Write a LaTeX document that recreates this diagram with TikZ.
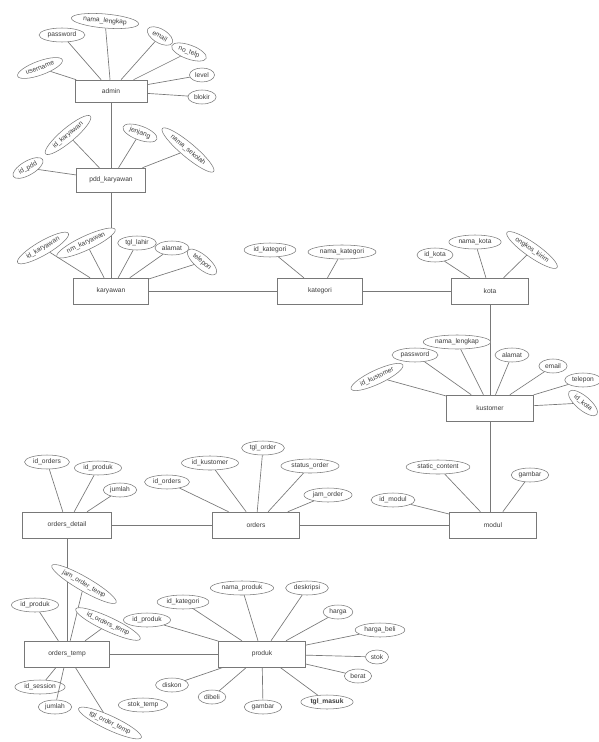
\documentclass[tikz,border=0pt]{standalone}
\usepackage{fontspec}
\setmainfont{Liberation Sans}
\usetikzlibrary{shapes.geometric}
\definecolor{erline}{RGB}{120,120,120}
\definecolor{ertext}{RGB}{60,60,60}

\begin{document}
\begin{tikzpicture}[x=.75pt,y=-.75pt,
  every node/.style={font=\fontsize{5}{6}\selectfont,text=ertext},
  entity/.style={draw=erline,fill=white,minimum width=65pt,minimum height=19.5pt,inner sep=1pt},
  attr/.style={draw=erline,fill=white,ellipse,inner xsep=1.5pt,inner ysep=1pt,minimum height=10.5pt},
  link/.style={erline,line width=.5pt}]
\useasboundingbox (0,0) rectangle (599,742);
% entities
\node[entity,minimum width=54pt,minimum height=16.5pt] (admin) at (111,91) {admin};
\node[entity,minimum width=52pt,minimum height=18pt] (pdd) at (111,180) {pdd\_karyawan};
\node[entity,minimum width=56pt] (karyawan) at (111,291) {karyawan};
\node[entity,minimum width=64pt] (kategori) at (320,291) {kategori};
\node[entity,minimum width=58pt] (kota) at (490,291) {kota};
\node[entity] (kustomer) at (490,408) {kustomer};
\node[entity] (modul) at (493,525) {modul};
\node[entity] (orders) at (256,525) {orders};
\node[entity,minimum width=67pt] (odetail) at (67,525) {orders\_detail};
\node[entity,minimum width=64pt] (otemp) at (67,654) {orders\_temp};
\node[entity] (produk) at (262,654) {produk};
% relations
\draw[link] (admin) -- (pdd);
\draw[link] (pdd) -- (karyawan);
\draw[link] (karyawan) -- (kategori);
\draw[link] (kategori) -- (kota);
\draw[link] (kota) -- (kustomer);
\draw[link] (kustomer.south) -- (kustomer.south |- modul.north);
\draw[link] (modul) -- (orders);
\draw[link] (orders) -- (odetail);
\draw[link] (odetail) -- (otemp);
\draw[link] (otemp) -- (produk);
% attributes
\foreach \px/\py/\rt/\lb [count=\i] in {40/68/20/username,62/35/0/password,105/21/-5/nama\_lengkap,
  160/36/-30/email,189/52/-20/no\_telp,202/75/0/level,202/97/0/blokir}
  {\node[attr,rotate=\rt] (admin-a\i) at (\px,\py) {\lb}; \draw[link] (admin-a\i) -- (admin);}
\foreach \px/\py/\rt/\lb [count=\i] in {28/168/30/id\_pdd,68/135/40/id\_karyawan,
  140/133/-20/jenjang,188/150/-40/nama\_sekolah}
  {\node[attr,rotate=\rt] (pdd-a\i) at (\px,\py) {\lb}; \draw[link] (pdd-a\i) -- (pdd);}
\foreach \px/\py/\rt/\lb [count=\i] in {43/248/30/id\_karyawan,86/243/25/nm\_karyawan,
  137/243/0/tgl\_lahir,172/248/0/alamat,202/262/-40/telepon}
  {\node[attr,rotate=\rt] (karyawan-a\i) at (\px,\py) {\lb}; \draw[link] (karyawan-a\i) -- (karyawan);}
\foreach \px/\py/\rt/\lb [count=\i] in {270/250/0/id\_kategori,342/252/0/nama\_kategori}
  {\node[attr,rotate=\rt] (kategori-a\i) at (\px,\py) {\lb}; \draw[link] (kategori-a\i) -- (kategori);}
\foreach \px/\py/\rt/\lb [count=\i] in {435/255/0/id\_kota,475/242/0/nama\_kota,532/250/-35/ongkos\_kirim}
  {\node[attr,rotate=\rt] (kota-a\i) at (\px,\py) {\lb}; \draw[link] (kota-a\i) -- (kota);}
\foreach \px/\py/\rt/\lb [count=\i] in {377/377/25/id\_kustomer,415/355/0/password,457/342/0/nama\_lengkap,
  512/355/0/alamat,553/366/0/email,583/380/0/telepon,583/403/-40/id\_kota}
  {\node[attr,rotate=\rt] (kustomer-a\i) at (\px,\py) {\lb}; \draw[link] (kustomer-a\i) -- (kustomer);}
\foreach \px/\py/\rt/\lb [count=\i] in {393/500/0/id\_modul,438/467/0/static\_content,530/475/0/gambar}
  {\node[attr,rotate=\rt] (modul-a\i) at (\px,\py) {\lb}; \draw[link] (modul-a\i) -- (modul);}
\foreach \px/\py/\rt/\lb [count=\i] in {167/482/0/id\_orders,210/463/0/id\_kustomer,263/448/0/tgl\_order,
  310/466/0/status\_order,328/495/0/jam\_order}
  {\node[attr,rotate=\rt] (orders-a\i) at (\px,\py) {\lb}; \draw[link] (orders-a\i) -- (orders);}
\foreach \px/\py/\rt/\lb [count=\i] in {47/462/0/id\_orders,98/468/0/id\_produk,120/490/0/jumlah}
  {\node[attr,rotate=\rt] (odetail-a\i) at (\px,\py) {\lb}; \draw[link] (odetail-a\i) -- (odetail);}
\foreach \px/\py/\rt/\lb [count=\i] in {84/584/-30/jam\_order\_temp,35/605/0/id\_produk,108/624/-25/id\_orders\_temp,
  40/687/0/id\_session,55/707/0/jumlah,110/723/-25/tgl\_order\_temp}
  {\node[attr,rotate=\rt] (otemp-a\i) at (\px,\py) {\lb}; \draw[link] (otemp-a\i) -- (otemp);}
\node[attr] (stoktemp) at (143,705) {stok\_temp};
\foreach \px/\py/\rt/\lb [count=\i] in {147/620/0/id\_produk,183/602/0/id\_kategori,242/588/0/nama\_produk,
  307/588/0/deskripsi,338/612/0/harga,380/630/0/harga\_beli,377/657/0/stok,358/676/0/berat,
  327/702/0/\textbf{tgl\_masuk},263/707/0/gambar,212/697/0/dibeli,172/685/0/diskon}
  {\node[attr,rotate=\rt] (produk-a\i) at (\px,\py) {\lb}; \draw[link] (produk-a\i) -- (produk);}
\end{tikzpicture}
\end{document}
